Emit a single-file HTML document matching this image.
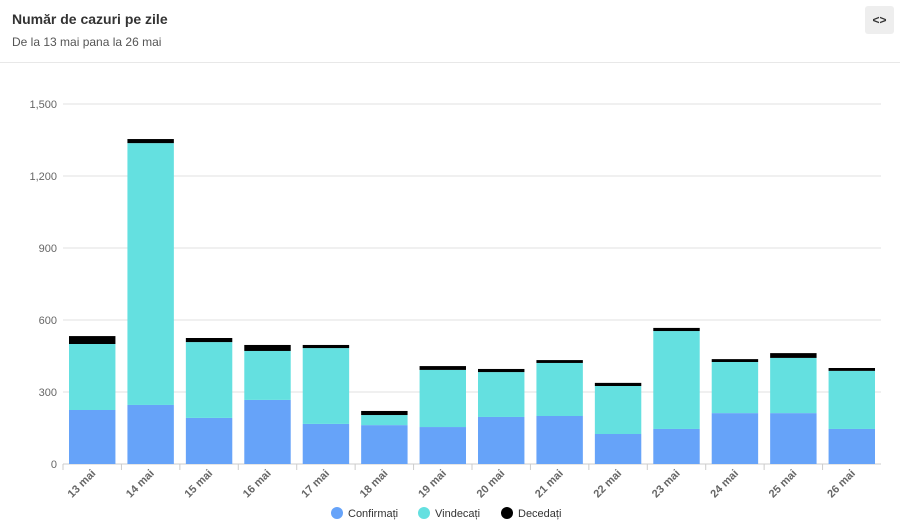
<!DOCTYPE html>
<html><head><meta charset="utf-8"><style>
body{margin:0;background:#fff;font-family:"Liberation Sans",sans-serif;}
#wrap{position:relative;width:900px;height:529px;overflow:hidden;}
.title{position:absolute;left:12px;top:11px;font-size:14px;font-weight:bold;color:#333;}
.sub{position:absolute;left:12px;top:35px;font-size:12px;color:#555;}
.btn{position:absolute;left:865px;top:6px;width:29px;height:28px;background:#eee;border-radius:3px;font-size:12px;font-weight:bold;text-align:center;line-height:28px;color:#333;}
.sep{position:absolute;left:0;top:62px;width:900px;height:1px;background:#e8e8e8;}
</style></head><body><div id="wrap">
<div class="title">Număr de cazuri pe zile</div>
<div class="sub">De la 13 mai pana la 26 mai</div>
<div class="btn">&lt;&gt;</div>
<div class="sep"></div>
<svg id="c" width="900" height="529" style="position:absolute;left:0;top:0"></svg>
</div>
<script>
const categories=["13 mai","14 mai","15 mai","16 mai","17 mai","18 mai","19 mai","20 mai","21 mai","22 mai","23 mai","24 mai","25 mai","26 mai"];
const confirmati=[225,246,192,267,167,162,154,196,200,125,146,212,212,146];
const vindecati=[275,1091,316,204,316,42,238,187,221,200,408,213,230,242];
const decedati=[33,17,17,25,13,17,16,13,12,13,13,12,20,12];
const yTicks=[0,300,600,900,1200,1500];
const seriesNames=["Confirmați","Vindecați","Decedați"];
const colors=["#66a3f9","#64e0e0","#000000"];
const svg=document.getElementById('c');const NS="http://www.w3.org/2000/svg";
const X0=63,X1=881,Y0=464,Y1=104,MAX=1500;
const y=v=>Y0-(v/MAX)*(Y0-Y1);
const slot=(X1-X0)/categories.length;
const x=i=>X0+i*slot;
function mk(t,a){const e=document.createElementNS(NS,t);for(const k in a)e.setAttribute(k,a[k]);svg.appendChild(e);return e;}
yTicks.forEach(t=>{
 const g=mk('line',{x1:X0,x2:X1,y1:y(t),y2:y(t),stroke:t===0?'#ccc':'#e0e0e0','stroke-width':1});
 
 
 const l=mk('text',{x:57,y:y(t)+4,'text-anchor':'end','font-size':11,fill:'#666','font-family':'Liberation Sans'});
 l.textContent=t.toLocaleString('en-US');
 
 
});
const series=[confirmati,vindecati,decedati];
categories.forEach((c,i)=>{
 let base=0;
 series.forEach((s,k)=>{
  const r=mk('rect',{x:x(i)+6,width:slot-12,y:y(base+s[i]),height:y(base)-y(base+s[i]),fill:colors[k]});
  
  
  base+=s[i];
 });
 const tk=mk('line',{x1:x(i),x2:x(i),y1:Y0,y2:Y0+6,stroke:'#ccc'});
 
 
 const cx=x(i)+slot/2+4,cy=Y0+10;
 const t=mk('text',{x:cx,y:cy,'text-anchor':'end','font-size':11,'font-weight':'bold',fill:'#666','font-family':'Liberation Sans',transform:`rotate(-45 ${cx} ${cy})`});
 t.textContent=c;
 
 
});
const lx=[331,418,501];
seriesNames.forEach((n,k)=>{
 const d=mk('circle',{cx:lx[k]+6,cy:513,r:6,fill:colors[k]});
 
 
 const t=mk('text',{x:lx[k]+17,y:517,'font-size':11,fill:'#333','font-family':'Liberation Sans'});
 t.textContent=n;
 
 
});
</script></body></html>
